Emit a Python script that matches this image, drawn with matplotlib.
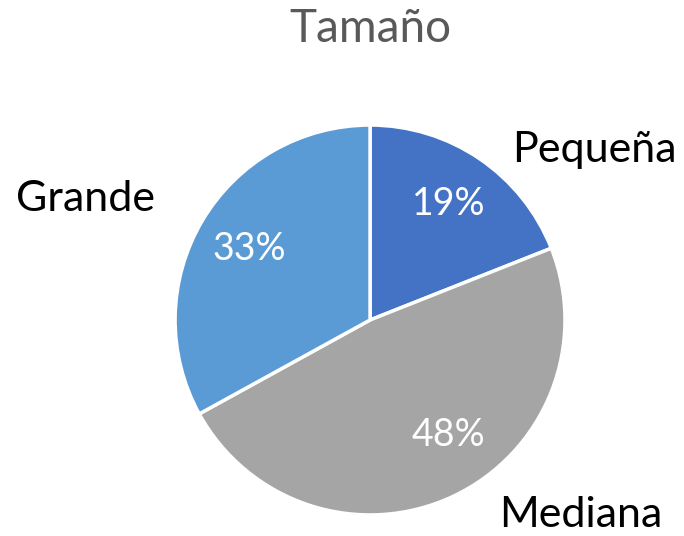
import matplotlib
matplotlib.use('Agg')
import matplotlib.pyplot as plt

labels = ['Pequeña', 'Mediana', 'Grande']
values = [19, 48, 33]
colors = ['#4472C4', '#A5A5A5', '#5B9BD5']

plt.rcParams['font.family'] = ['Lato', 'DejaVu Sans']

fig = plt.figure(figsize=(6.84, 5.36), dpi=100)
ax = fig.add_axes([0.256, 0.039, 0.570, 0.728])

wedges, texts, autotexts = ax.pie(values, colors=colors, startangle=90, counterclock=False,
                                  autopct='%1.0f%%', pctdistance=0.72,
                                  wedgeprops=dict(edgecolor='white', linewidth=2.5),
                                  textprops=dict(color='white', fontsize=27))
ax.set_xlim(-1, 1)
ax.set_ylim(-1, 1)
ax.set_aspect('equal')
# Excel puts the Mediana percentage a bit further right
autotexts[1].set_position((0.40, -0.59))

# outside category labels (Excel best-fit positions)
label_pos = {'Pequeña': (1.15, 0.87), 'Grande': (-1.46, 0.62), 'Mediana': (1.08, -1.0)}
for name in labels:
    x, y = label_pos[name]
    ax.text(x, y, name, ha='center', va='center', fontsize=31, color='black', clip_on=False)

fig.text(0.541, 0.945, 'Tamaño', ha='center', va='center', fontsize=33, color='#595959')

plt.savefig('out.png', dpi=100)
